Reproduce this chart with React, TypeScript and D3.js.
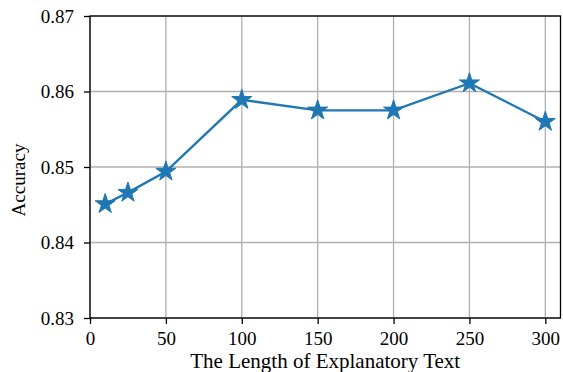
import React, { useRef, useEffect } from "react";
import * as d3 from "d3";

// data
const lengths = [10, 25, 50, 100, 150, 200, 250, 300];
const accuracy = [0.8451, 0.8466, 0.8494, 0.8589, 0.8575, 0.8575, 0.8611, 0.8560];
const xTicks = [0, 50, 100, 150, 200, 250, 300];
const yTicks = [0.83, 0.84, 0.85, 0.86, 0.87];

const font = "'Liberation Serif', 'DejaVu Serif', serif";
const lineColor = "#1f77b4";

export default function App() {
  const ref = useRef<SVGSVGElement>(null);

  useEffect(() => {
    const width = 563;
    const height = 372;
    const margin = { top: 16, right: 2.5, bottom: 54, left: 90 };
    const w = width - margin.left - margin.right;
    const h = height - margin.top - margin.bottom;

    const svg = d3.select(ref.current);
    svg.selectAll("*").remove();
    svg.attr("width", width).attr("height", height).style("font-family", font);

    const x = d3.scaleLinear().domain([0, 310]).range([0, w]);
    const y = d3.scaleLinear().domain([0.83, 0.87]).range([h, 0]);

    const g = svg.append("g").attr("transform", `translate(${margin.left},${margin.top})`);

    // grid
    g.append("g")
      .selectAll("line")
      .data(xTicks)
      .join("line")
      .attr("x1", d => x(d))
      .attr("x2", d => x(d))
      .attr("y1", 0)
      .attr("y2", h)
      .attr("stroke", "#b0b0b0")
      .attr("stroke-width", 1.3);
    g.append("g")
      .selectAll("line")
      .data(yTicks)
      .join("line")
      .attr("x1", 0)
      .attr("x2", w)
      .attr("y1", d => y(d))
      .attr("y2", d => y(d))
      .attr("stroke", "#b0b0b0")
      .attr("stroke-width", 1.3);

    // axes
    g.append("g")
      .attr("transform", `translate(0,${h})`)
      .call(d3.axisBottom(x).tickValues(xTicks).tickSize(6).tickPadding(8))
      .call(a => a.select(".domain").remove())
      .call(a => a.selectAll("line").attr("stroke", "#000").attr("stroke-width", 1.3))
      .call(a => a.selectAll("text")
        .attr("font-size", 19)
        .attr("font-family", font)
        .attr("fill", "#000"));

    g.append("g")
      .call(d3.axisLeft(y).tickValues(yTicks).tickFormat(d3.format(".2f")).tickSize(6).tickPadding(10))
      .call(a => a.select(".domain").remove())
      .call(a => a.selectAll("line").attr("stroke", "#000").attr("stroke-width", 1.3))
      .call(a => a.selectAll("text")
        .attr("font-size", 19)
        .attr("font-family", font)
        .attr("fill", "#000"));

    // frame
    g.append("rect")
      .attr("x", 0)
      .attr("y", 0)
      .attr("width", w)
      .attr("height", h)
      .attr("fill", "none")
      .attr("stroke", "#000")
      .attr("stroke-width", 1.3);

    // line
    const pts = lengths.map((l, i) => [l, accuracy[i]] as [number, number]);
    g.append("path")
      .datum(pts)
      .attr("d", d3.line<[number, number]>().x(d => x(d[0])).y(d => y(d[1])))
      .attr("fill", "none")
      .attr("stroke", lineColor)
      .attr("stroke-width", 2.4);

    // star markers
    g.selectAll("path.star")
      .data(pts)
      .join("path")
      .attr("class", "star")
      .attr("transform", d => `translate(${x(d[0])},${y(d[1])})`)
      .attr("d", d3.symbol().type(d3.symbolStar).size(125)())
      .attr("fill", lineColor)
      .attr("stroke", lineColor)
      .attr("stroke-width", 1);

    // labels
    svg.append("text")
      .attr("x", margin.left + w / 2)
      .attr("y", height - 4)
      .attr("text-anchor", "middle")
      .attr("font-size", 21)
      .attr("fill", "#000")
      .text("The Length of Explanatory Text");

    svg.append("text")
      .attr("transform", `translate(25,180) rotate(-90)`)
      .attr("text-anchor", "middle")
      .attr("font-size", 19)
      .attr("fill", "#000")
      .text("Accuracy");
  }, []);

  return <svg ref={ref} style={{ position: "absolute", left: 0, top: 0 }}></svg>;
}
